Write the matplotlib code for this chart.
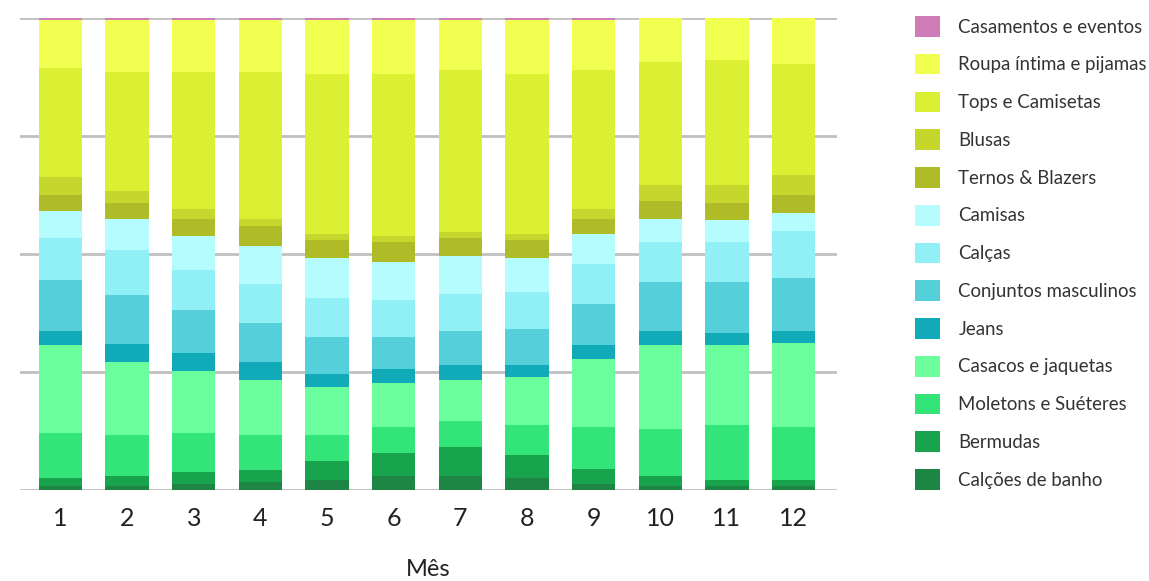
import matplotlib
matplotlib.use("Agg")
import matplotlib.pyplot as plt
from matplotlib.patches import Patch
import numpy as np

plt.rcParams['font.family'] = ['Lato', 'DejaVu Sans']

months = ["1", "2", "3", "4", "5", "6", "7", "8", "9", "10", "11", "12"]

# stacking order: bottom -> top
categories = ["Calções de banho", "Bermudas", "Moletons e Suéteres", "Casacos e jaquetas",
              "Jeans", "Conjuntos masculinos", "Calças", "Camisas", "Ternos & Blazers",
              "Blusas", "Tops e Camisetas", "Roupa íntima e pijamas", "Casamentos e eventos"]

colors = ["#1e8645", "#17a44c", "#33e578", "#6aff9c", "#10aab8", "#55d0db", "#91f0f5",
          "#b5fcff", "#afbc28", "#c5d62c", "#dbef33", "#f0ff50", "#d07cb8"]

calcoes = [0.85, 0.85, 1.3, 1.7, 2.1, 3.0, 3.0, 2.55, 1.3, 0.85, 0.85, 0.85]
bermudas = [1.7, 2.1, 2.55, 2.55, 4.0, 4.9, 6.2, 4.9, 3.2, 2.1, 1.3, 1.3]
moletons = [9.6, 8.7, 8.3, 7.45, 5.5, 5.5, 5.5, 6.4, 8.9, 10.0, 11.7, 11.3]
casacos = [18.5, 15.5, 13.0, 11.7, 10.2, 9.4, 8.7, 10.0, 14.3, 17.7, 16.8, 17.7]
jeans = [3.0, 3.8, 3.8, 3.8, 2.8, 2.8, 3.0, 2.55, 3.0, 3.0, 2.55, 2.55]
conjuntos = [10.9, 10.4, 9.15, 8.1, 7.7, 6.8, 7.2, 7.7, 8.7, 10.4, 10.9, 11.3]
calcas = [8.9, 9.4, 8.5, 8.3, 8.3, 7.9, 7.9, 7.9, 8.5, 8.5, 8.5, 9.8]
camisas = [5.7, 6.6, 7.2, 8.1, 8.5, 8.1, 8.1, 7.2, 6.4, 4.9, 4.5, 4.0]
ternos = [3.4, 3.4, 3.6, 4.25, 3.8, 4.25, 3.8, 3.8, 3.2, 3.8, 3.8, 3.8]
blusas = [3.8, 2.55, 2.1, 1.5, 1.3, 1.3, 1.3, 1.3, 2.1, 3.4, 3.8, 4.25]
tops = [23.0, 25.1, 28.9, 31.1, 33.8, 34.3, 34.3, 33.8, 29.4, 26.0, 26.4, 23.4]
roupa = [10.2, 11.1, 11.1, 11.1, 11.5, 11.5, 10.6, 11.5, 10.6, 9.4, 8.9, 9.8]
casamentos = [0.4, 0.4, 0.4, 0.4, 0.4, 0.4, 0.4, 0.4, 0.4, 0.0, 0.0, 0.0]

series = [calcoes, bermudas, moletons, casacos, jeans, conjuntos, calcas, camisas,
          ternos, blusas, tops, roupa, casamentos]

data = np.array(series, dtype=float)
data = data / data.sum(axis=0) * 100.0

fig = plt.figure(figsize=(11.49, 5.81), dpi=100)
ax = fig.add_axes([20/1149, 1 - 490/581, (837-20)/1149, (490-18)/581])

x = np.arange(1, len(months) + 1)
bottom = np.zeros(len(months))
handles = []
for vals, col, name in zip(data, colors, categories):
    ax.bar(x, vals, bottom=bottom, width=0.65, color=col, linewidth=0, zorder=3)
    bottom += vals
    handles.append(Patch(facecolor=col, edgecolor='none', label=name))

ax.set_xlim(0.392, 12.653)
ax.set_ylim(0, 100)
ax.set_yticks([0, 25, 50, 75, 100])
ax.yaxis.grid(True, color="#c0c0c0", linewidth=2, zorder=0)
ax.set_axisbelow(True)
ax.tick_params(axis='y', left=False, labelleft=False)
ax.tick_params(axis='x', length=0, pad=12, labelsize=18, labelcolor="#222222")
ax.set_xticks(x)
ax.set_xticklabels(months)
for s in ax.spines.values():
    s.set_visible(False)
ax.set_xlabel("Mês", fontsize=17, color="#222222", labelpad=21)

leg = fig.legend(handles=handles[::-1], loc='upper left',
                 bbox_to_anchor=(915/1149, 1 - 16/581), frameon=False,
                 fontsize=13.4, handlelength=1.33, handleheight=1.33,
                 handletextpad=1.0, labelspacing=0.92, borderpad=0, borderaxespad=0)
for t in leg.get_texts():
    t.set_color("#333333")

fig.savefig("out.png", dpi=100)
